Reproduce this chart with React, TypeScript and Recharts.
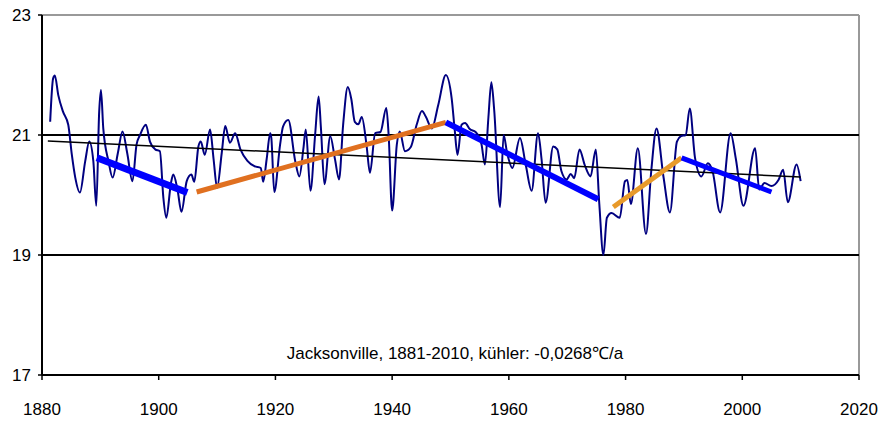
import React from "react";
import { LineChart, Line, XAxis, YAxis, ReferenceLine } from "recharts";

const years = [
  1881.4, 1881.9, 1882.2, 1882.8, 1883.6, 1884.5, 1885.1, 1885.7, 1886.5, 1887.4,
  1888.1, 1888.8, 1889.3, 1889.8, 1890.1, 1890.5, 1891.4, 1892.1, 1893.0, 1893.8,
  1894.6, 1895.5, 1896.2, 1896.8, 1897.8, 1898.5, 1899.4, 1900.2, 1900.8, 1901.3,
  1902.1, 1902.5, 1903.2, 1903.9, 1904.8, 1905.6, 1906.1, 1906.8, 1907.2, 1907.9,
  1908.8, 1909.4, 1910.0, 1910.8, 1911.4, 1912.2, 1913.1, 1914.0, 1915.2, 1916.4,
  1917.5, 1917.9, 1918.5, 1919.1, 1919.3, 1919.8, 1920.8, 1921.3, 1922.2, 1923.4,
  1924.1, 1924.8, 1925.2, 1926.0, 1926.8, 1927.4, 1927.8, 1928.4, 1929.4, 1930.2,
  1930.9, 1931.6, 1932.4, 1933.0, 1933.6, 1934.2, 1934.8, 1935.6, 1936.2, 1937.1,
  1938.0, 1939.0, 1939.4, 1940.0, 1940.8, 1941.3, 1942.2, 1943.2, 1944.2, 1945.1,
  1945.8, 1946.8, 1947.9, 1949.2, 1950.2, 1950.7, 1951.2, 1951.9, 1952.5, 1953.3,
  1954.3, 1955.3, 1955.9, 1956.5, 1957.0, 1957.5, 1958.5, 1959.1, 1959.7, 1960.6,
  1961.9, 1962.9, 1963.9, 1965.0, 1965.6, 1966.3, 1967.6, 1968.3, 1969.0, 1969.9,
  1970.6, 1971.2, 1972.1, 1973.0, 1974.0, 1974.9, 1975.5, 1976.2, 1976.8, 1977.6,
  1979.0, 1979.9, 1980.3, 1980.9, 1982.1, 1983.5, 1984.4, 1985.3, 1986.5, 1987.6,
  1988.8, 1989.5, 1990.3, 1991.0, 1991.9, 1993.0, 1994.1, 1994.9, 1996.2, 1998.0,
  1998.9, 2000.2, 2002.2, 2002.9, 2003.8, 2005.0, 2006.2, 2007.0, 2007.8, 2009.3,
  2010.0,
];

const temps = [
  21.22, 21.94, 21.99, 21.66, 21.39, 21.17, 20.68, 20.29, 20.04, 20.56,
  20.89, 20.56, 19.82, 21.39, 21.75, 21.11, 20.56, 20.29, 20.7, 21.06,
  20.7, 20.23, 20.84, 21.0, 21.17, 20.89, 20.76, 20.73, 19.95, 19.62,
  20.2, 20.34, 20.1, 19.72, 20.23, 20.34, 20.22, 20.81, 20.89, 20.67,
  21.09, 20.6, 20.12, 20.7, 21.15, 20.87, 21.03, 20.76, 20.57, 20.48,
  20.45, 20.22, 20.6, 21.03, 20.95, 20.05, 20.84, 21.14, 21.25, 20.56,
  20.31, 20.78, 21.09, 20.07, 21.0, 21.64, 21.11, 20.18, 20.98, 20.6,
  20.26, 21.17, 21.8, 21.6, 21.22, 21.18, 21.3, 20.84, 20.37, 21.03,
  21.05, 21.45, 21.0, 19.74, 20.84, 21.06, 20.73, 20.8, 21.17, 21.4,
  21.3, 21.11, 21.5, 22.0, 21.61, 21.11, 20.67, 21.17, 21.2, 21.1,
  21.05, 20.85, 20.51, 21.3, 21.88, 21.4, 19.8, 21.0, 20.7, 20.45,
  20.95, 20.5, 20.07, 21.03, 20.6, 19.87, 20.81, 20.76, 20.4, 20.26,
  20.35, 20.28, 20.76, 20.5, 20.31, 20.76, 19.85, 19.0, 19.62, 19.7,
  19.62, 20.23, 20.25, 19.85, 20.78, 19.35, 20.4, 21.11, 20.3, 19.71,
  20.89, 20.98, 21.0, 21.44, 20.62, 20.31, 20.53, 20.4, 19.71, 21.03,
  20.6, 19.82, 20.78, 20.09, 20.2, 20.15, 20.25, 20.42, 19.88, 20.51,
  20.23,
];

const trendYears = [1881, 2010];
const trendValues = [20.9, 20.3];

const seg1Years = [1889.4, 1904.9];
const seg1Values = [20.62, 20.04];
const seg2Years = [1906.5, 1949.2];
const seg2Values = [20.05, 21.21];
const seg3Years = [1949.2, 1975.3];
const seg3Values = [21.21, 19.93];
const seg4Years = [1977.9, 1989.6];
const seg4Values = [19.8, 20.62];
const seg5Years = [1989.6, 2005.0];
const seg5Values = [20.62, 20.05];

const xTicks = [1880, 1900, 1920, 1940, 1960, 1980, 2000, 2020];
const yTicks = [17, 19, 21, 23];

const title = "Jacksonville, 1881-2010, kühler: -0,0268℃/a";

const mk = (xs: number[], ys: number[]) => xs.map((x, i) => ({ year: x, v: ys[i] }));

const mainData = mk(years, temps);
const trendData = mk(trendYears, trendValues);

const FONT = "'Liberation Sans', Arial, sans-serif";

const XTick = (props: any) => {
  const { x, payload } = props;
  return (
    <text x={x} y={415} textAnchor="middle" fontFamily={FONT} fontSize={17} fill="#000">
      {payload.value}
    </text>
  );
};

const YTick = (props: any) => {
  const { y, payload } = props;
  return (
    <text x={31} y={y + 6} textAnchor="end" fontFamily={FONT} fontSize={17} fill="#000">
      {payload.value}
    </text>
  );
};

export default function App() {
  return (
    <div style={{ position: "absolute", left: 0, top: 0, width: 880, height: 421, background: "#fff" }}>
      <LineChart width={880} height={421} margin={{ top: 15, right: 21, left: 0, bottom: 0 }}>
        <XAxis
          dataKey="year"
          type="number"
          domain={[1880, 2020]}
          ticks={xTicks}
          allowDataOverflow
          height={46}
          tick={<XTick />}
          tickSize={5}
          axisLine={{ stroke: "#000", strokeWidth: 2 }}
          tickLine={{ stroke: "#000", strokeWidth: 1.5 }}
        />
        <YAxis
          type="number"
          domain={[17, 23]}
          ticks={yTicks}
          width={42}
          tick={<YTick />}
          tickSize={4}
          axisLine={{ stroke: "#000", strokeWidth: 2 }}
          tickLine={{ stroke: "#000", strokeWidth: 1.5 }}
        />
        <ReferenceLine y={23} stroke="#999" strokeWidth={2} />
        <ReferenceLine x={2020} stroke="#999" strokeWidth={2} />
        <ReferenceLine y={21} stroke="#000" strokeWidth={2} />
        <ReferenceLine y={19} stroke="#000" strokeWidth={2} />
        <Line
          data={mainData}
          dataKey="v"
          type="monotone"
          stroke="#000080"
          strokeWidth={2}
          dot={false}
          isAnimationActive={false}
        />
        <Line data={trendData} dataKey="v" type="linear" stroke="#000" strokeWidth={1.5} dot={false} isAnimationActive={false} />
        <Line data={mk(seg1Years, seg1Values)} dataKey="v" type="linear" stroke="#0000FF" strokeWidth={7} dot={false} isAnimationActive={false} />
        <Line data={mk(seg2Years, seg2Values)} dataKey="v" type="linear" stroke="#E07020" strokeWidth={5} dot={false} isAnimationActive={false} />
        <Line data={mk(seg3Years, seg3Values)} dataKey="v" type="linear" stroke="#0000FF" strokeWidth={6} dot={false} isAnimationActive={false} />
        <Line data={mk(seg4Years, seg4Values)} dataKey="v" type="linear" stroke="#E89A2A" strokeWidth={5} dot={false} isAnimationActive={false} />
        <Line data={mk(seg5Years, seg5Values)} dataKey="v" type="linear" stroke="#0000FF" strokeWidth={5} dot={false} isAnimationActive={false} />
      </LineChart>
      <div
        style={{
          position: "absolute",
          left: 0,
          width: 910,
          top: 341,
          textAlign: "center",
          fontFamily: FONT,
          fontSize: 17,
          color: "#000",
          whiteSpace: "nowrap",
        }}
      >
        {title}
      </div>
    </div>
  );
}
